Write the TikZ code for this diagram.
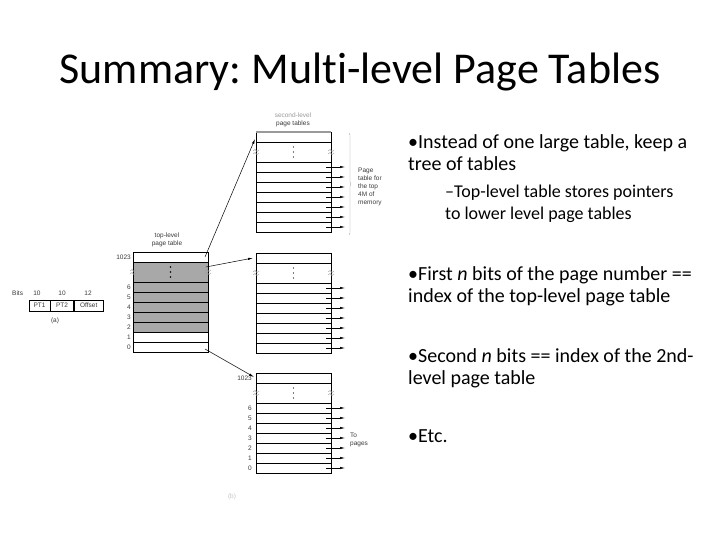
\documentclass[tikz,border=0pt]{standalone}
\usepackage{fontspec}
\setmainfont{Carlito}[Ligatures=NoCommon]
\newfontfamily\figfont{Liberation Sans}
\usetikzlibrary{arrows.meta, positioning, calc, decorations.pathreplacing}
\definecolor{tblgray}{HTML}{A8A8A8}
\definecolor{inkgray}{HTML}{3A3A3A}
\definecolor{fadegray}{HTML}{9A9A9A}
\frenchspacing

\begin{document}
\begin{tikzpicture}[
    x=1pt, y=-1pt,
    >={Latex[length=5pt, width=2.4pt]},
    every node/.style={inner sep=0pt},
    figtext/.style={font=\figfont\fontsize{6.5}{7.8}\selectfont, text=inkgray},
    bullet/.style={font=\fontsize{20}{22}\selectfont, anchor=base west},
    subbullet/.style={font=\fontsize{18}{20}\selectfont, anchor=base west},
    rowline/.style={line width=0.6pt},
    breakmark/.style={fadegray, line width=0.4pt},
    outarrow/.style={->, line width=0.5pt},
    ptrarrow/.style={->, line width=0.5pt},
    fieldbox/.style={draw, line width=0.6pt, minimum height=11pt,
      font=\figfont\fontsize{6.5}{7.8}\selectfont, text=inkgray},
  ]

  % Slide
  \useasboundingbox (0,0) rectangle (720,540);
  \node[font=\fontsize{44}{53}\selectfont, anchor=base] (title) at (360,84)
    {Summary: Multi-level Page Tables};

  %%% Figure (a): address split %%%
  \node[fieldbox, minimum width=21pt] (pt1) at (39.5,305.5) {PT1};
  \node[fieldbox, minimum width=23pt, right=0pt of pt1] (pt2) {PT2};
  \node[fieldbox, minimum width=29pt, right=0pt of pt2] (offset) {Offset};
  \node[figtext, anchor=west] (bitslbl) at (12,293) {Bits};
  \node[figtext] (bitspt1) at (37,293) {10};
  \node[figtext] (bitspt2) at (62,293) {10};
  \node[figtext] (bitsoff) at (88,293) {12};
  \node[figtext] (figa) at (55,321) {(a)};

  %%% Top-level page table %%%
  \node[figtext, align=center] (tllbl) at (167,240) {top-level\\page table};
  \begin{scope}[shift={(133,252)}]
    \fill[tblgray] (0,10) rectangle (75,80);
    \draw[rowline] (0,0) rectangle (75,100);
    \foreach \y in {10,30,40,...,90} \draw[rowline] (0,\y) -- (75,\y);
    \foreach \y in {15,20,25} \fill (37.5,\y) circle (0.8pt);
    \foreach \x in {0,75} {
      \draw[breakmark] (\x-3,19) -- (\x-1,17.5) -- (\x+1,19.5) -- (\x+3,18);
      \draw[breakmark] (\x-3,22) -- (\x-1,20.5) -- (\x+1,22.5) -- (\x+3,21);
    }
    \node[figtext, anchor=east] (tlrow1023) at (-2,5) {1023};
    \foreach \n/\y in {6/35,5/45,4/55,3/65,2/75,1/85,0/95}
      \node[figtext, anchor=east] (tlrow\n) at (-2,\y) {\n};
    \coordinate (tlhi) at (72,5);
    \coordinate (tlmid) at (73,15);
    \coordinate (tllo) at (72,97);
  \end{scope}

  %%% Second-level page table for the top 4M %%%
  \node[figtext, text=fadegray] (sllbl) at (293,115) {second-level};
  \node[figtext] (sllbl2) at (293,124) {page tables};
  \begin{scope}[shift={(256,132)}]
    \draw[rowline] (0,0) rectangle (75,100);
    \draw[fadegray, line width=1.2pt] (0,0) -- (75,0);
    \foreach \y in {10,30,40,...,90} \draw[rowline] (0,\y) -- (75,\y);
    \foreach \y in {15,20,25} \fill (37.5,\y) circle (0.6pt);
    \foreach \x in {0,75} {
      \draw[breakmark] (\x-3,19) -- (\x-1,17.5) -- (\x+1,19.5) -- (\x+3,18);
      \draw[breakmark] (\x-3,22) -- (\x-1,20.5) -- (\x+1,22.5) -- (\x+3,21);
    }
    \foreach \y in {35,45,...,95} \draw[outarrow] (70,\y) -- (89,\y);
    \coordinate (slain) at (-1,7);
    \draw[fadegray, line width=0.4pt, decorate,
      decoration={brace, amplitude=2pt}] (93,1) -- (93,103);
  \end{scope}
  \node[figtext, align=left, anchor=west] (memlbl) at (358,187)
    {Page\\table for\\the top\\4M of\\memory};

  %%% Second-level page table (middle) %%%
  \begin{scope}[shift={(256,253)}]
    \draw[rowline] (0,0) rectangle (75,100);
    \foreach \y in {10,30,40,...,90} \draw[rowline] (0,\y) -- (75,\y);
    \foreach \y in {15,20,25} \fill (37.5,\y) circle (0.6pt);
    \foreach \x in {0,75} {
      \draw[breakmark] (\x-3,19) -- (\x-1,17.5) -- (\x+1,19.5) -- (\x+3,18);
      \draw[breakmark] (\x-3,22) -- (\x-1,20.5) -- (\x+1,22.5) -- (\x+3,21);
    }
    \foreach \y in {35,45,...,95} \draw[outarrow] (70,\y) -- (89,\y);
    \coordinate (slbin) at (-3,5);
  \end{scope}

  %%% Second-level page table (bottom) %%%
  \begin{scope}[shift={(256,373)}]
    \draw[rowline] (0,0) rectangle (75,100);
    \foreach \y in {10,30,40,...,90} \draw[rowline] (0,\y) -- (75,\y);
    \foreach \y in {15,20,25} \fill (37.5,\y) circle (0.6pt);
    \foreach \x in {0,75} {
      \draw[breakmark] (\x-3,19) -- (\x-1,17.5) -- (\x+1,19.5) -- (\x+3,18);
      \draw[breakmark] (\x-3,22) -- (\x-1,20.5) -- (\x+1,22.5) -- (\x+3,21);
    }
    \foreach \y in {35,45,...,95} \draw[outarrow] (70,\y) -- (89,\y);
    \node[figtext, anchor=east] (slcrow1023) at (-4,5) {1023};
    \foreach \n/\y in {6/35,5/45,4/55,3/65,2/75,1/85,0/95}
      \node[figtext, anchor=east] (slcrow\n) at (-4,\y) {\n};
    \coordinate (slcin) at (-2,4);
  \end{scope}
  \node[figtext, align=left, anchor=west] (pageslbl) at (350,440) {To\\pages};
  \node[figtext, text=fadegray!60] (figb) at (232,497) {(b)};

  % Pointers from the top-level table
  \draw[ptrarrow] (tlhi) -- (slain);
  \draw[ptrarrow] (tlmid) -- (slbin);
  \draw[ptrarrow] (tllo) -- (slcin);

  %%% Bullet text %%%
  \node[bullet] (b1a) at (408,149) {•Instead of one large table, keep a};
  \node[bullet] (b1b) at (408,171) {tree of tables};
  \node[subbullet] (b2a) at (445,198) {–Top-level table stores pointers};
  \node[subbullet] (b2b) at (445,220) {to lower level page tables};
  \node[bullet] (b3a) at (408,280) {•First \textit{n} bits of the page number ==};
  \node[bullet] (b3b) at (408,302) {index of the top-level page table};
  \node[bullet] (b4a) at (408,362) {•Second \textit{n} bits == index of the 2nd-};
  \node[bullet] (b4b) at (408,384) {level page table};
  \node[bullet] (b5) at (408,442) {•Etc.};

\end{tikzpicture}
\end{document}
